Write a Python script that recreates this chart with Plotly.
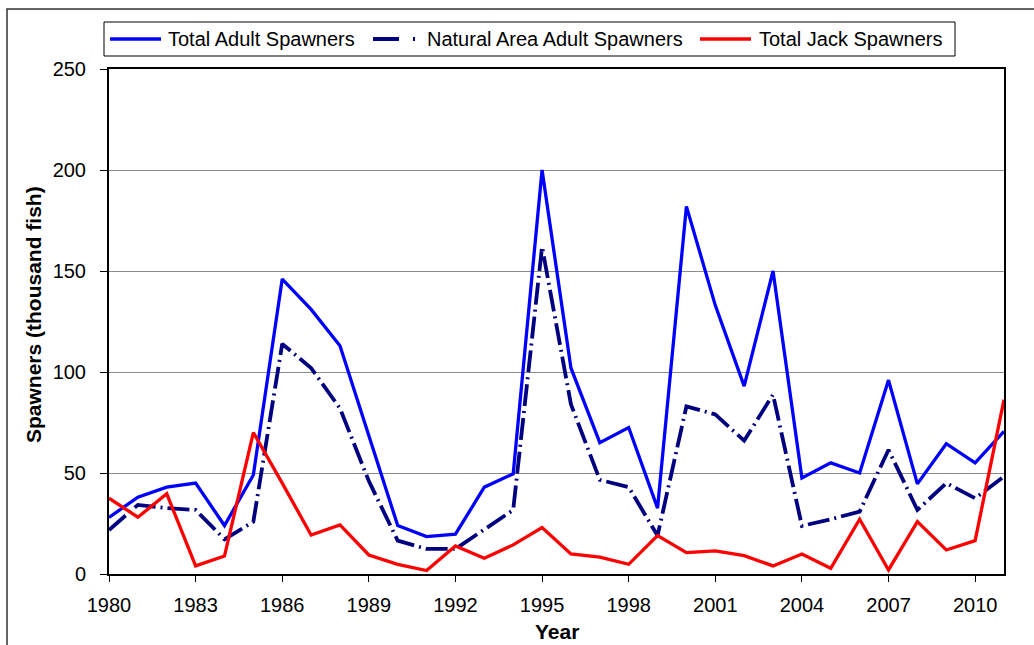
import plotly.graph_objects as go

years = list(range(1980, 2012))
total_adult = [28, 38, 43, 45, 24, 49, 146, 131, 113, 68, 24, 18.5, 19.7, 43, 49.6,
               200, 102, 65, 72.5, 32.6, 182, 133, 93, 150, 47.5, 55, 50, 96, 44.6,
               64.5, 55, 70.6]
natural_adult = [21.8, 34.2, 32.6, 31.7, 17.2, 25.9, 113.9, 102, 82, 46, 16.5, 12.4, 12.4,
                 22, 31.7, 162, 84, 46.6, 43, 19, 83, 79, 66, 88.8, 23.8, 27.1, 30.9,
                 61.5, 31.7, 45, 37.5, 48.3]
total_jack = [37.5, 28.1, 39.7, 4, 8.9, 70, 45, 19.3, 24.3, 9.4, 4.8, 1.7, 13.9, 7.8, 14.4,
              23, 9.9, 8.3, 4.8, 19, 10.6, 11.4, 9.1, 4, 9.9, 2.8, 27.1, 2, 25.9, 11.9,
              16.5, 86.3]

series_names = ["Total Adult Spawners", "Natural Area Adult Spawners", "Total Jack Spawners"]
series_colors = ["#0000FF", "#000080", "#FF0000"]
series_widths = [3.3, 3.8, 3.3]
series_dash = ["solid", "22px,5px,2px,5px", "solid"]

x_tick_vals = list(range(1980, 2011, 3))
y_tick_vals = [0, 50, 100, 150, 200, 250]

FONT = "Liberation Sans, Arial, sans-serif"

# plot area in pixels
L, R, T, B = 109, 1004, 69, 574
W, H = R - L, B - T


def px(x):
    return (x - L) / W


def py(y):
    return (B - y) / H


fig = go.Figure()
for name, vals, col, wd, ds in zip(series_names, [total_adult, natural_adult, total_jack],
                                    series_colors, series_widths, series_dash):
    fig.add_trace(go.Scatter(x=years, y=vals, mode="lines", name=name,
                             line=dict(color=col, width=wd, dash=ds)))

# manual legend (box, sample lines, labels)
leg_y = 39
leg_items = [(110, 161, 166), (373, 420, 425), (700, 751, 757)]
shapes = [
    dict(type="rect", xref="paper", yref="paper",
         x0=px(7), x1=px(1045), y0=py(660), y1=py(9),
         line=dict(color="#333333", width=1.5), fillcolor="rgba(0,0,0,0)", layer="below"),
    dict(type="rect", xref="paper", yref="paper",
         x0=px(104), x1=px(955), y0=py(56), y1=py(22),
         line=dict(color="black", width=1), fillcolor="white", layer="above"),
]
annotations = [
    dict(text="<b>Spawners (thousand fish)</b>", xref="paper", yref="paper",
         x=px(33), y=py(315), xanchor="center", yanchor="middle",
         textangle=-90, showarrow=False, font=dict(size=21)),
    dict(text="<b>Year</b>", xref="paper", yref="paper",
         x=0.5, y=py(631), xanchor="center", yanchor="middle",
         showarrow=False, font=dict(size=21)),
]
for (x0, x1, xt), name, col, wd, ds in zip(leg_items, series_names, series_colors,
                                           series_widths, series_dash):
    shapes.append(dict(type="line", xref="paper", yref="paper",
                       x0=px(x0), x1=px(x1), y0=py(leg_y), y1=py(leg_y),
                       line=dict(color=col, width=wd,
                                 dash=("26px,14px,2px,10px" if ds != "solid" else "solid")),
                       layer="above"))
    annotations.append(dict(text=name, xref="paper", yref="paper",
                            x=px(xt), y=py(leg_y), xanchor="left", yanchor="middle",
                            showarrow=False, font=dict(size=20)))

fig.update_layout(
    width=1034, height=645,
    margin=dict(l=L, r=1034 - R, t=T, b=645 - B),
    paper_bgcolor="white", plot_bgcolor="white",
    font=dict(family=FONT, size=20, color="black"),
    showlegend=False,
    xaxis=dict(range=[1980, 2011], tickmode="array", tickvals=x_tick_vals,
               ticks="outside", ticklen=6, tickcolor="black", tickwidth=1,
               showline=True, linecolor="black", linewidth=2, mirror=True,
               showgrid=False, zeroline=False, ticklabelstandoff=6,
               tickfont=dict(size=20)),
    yaxis=dict(range=[0, 250], tickmode="array", tickvals=y_tick_vals,
               ticks="outside", ticklen=7, tickcolor="black", tickwidth=1,
               showline=True, linecolor="black", linewidth=2, mirror=True,
               showgrid=True, gridcolor="#8c8c8c", gridwidth=1,
               zeroline=False, ticklabelstandoff=10,
               tickfont=dict(size=20)),
    annotations=annotations,
    shapes=shapes,
)

fig.write_html("out.html", config={"displayModeBar": False},
               post_script="document.body.style.margin='0';document.body.style.overflow='hidden';")
